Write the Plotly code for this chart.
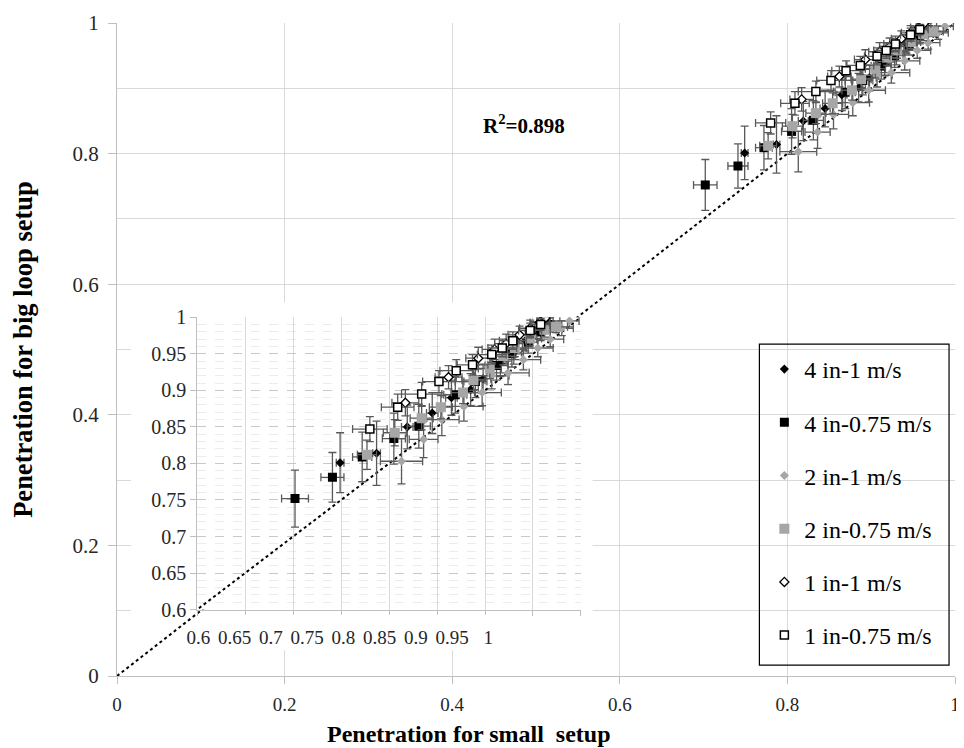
import plotly.graph_objects as go

# ---------------- data ----------------
series_names = ["4 in-1 m/s", "4 in-0.75 m/s", "2 in-1 m/s", "2 in-0.75 m/s", "1 in-1 m/s", "1 in-0.75 m/s"]

s1_x = [0.749, 0.787, 0.819, 0.845, 0.865, 0.885, 0.898, 0.916, 0.930, 0.942, 0.952, 0.960]
s1_y = [0.801, 0.814, 0.850, 0.869, 0.890, 0.901, 0.916, 0.937, 0.952, 0.968, 0.982, 0.998]
s1_ex = [0.004, 0.004, 0.006, 0.006, 0.006, 0.008, 0.008, 0.008, 0.008, 0.008, 0.008, 0.006]
s1_ey = [0.041, 0.044, 0.030, 0.028, 0.024, 0.022, 0.020, 0.018, 0.016, 0.014, 0.012, 0.008]

s2_x = [0.702, 0.741, 0.772, 0.805, 0.831, 0.869, 0.890, 0.912, 0.928, 0.945, 0.958, 0.968]
s2_y = [0.752, 0.781, 0.809, 0.834, 0.851, 0.894, 0.912, 0.934, 0.950, 0.966, 0.980, 0.990]
s2_ex = [0.014, 0.012, 0.010, 0.012, 0.012, 0.012, 0.012, 0.012, 0.012, 0.010, 0.010, 0.008]
s2_ey = [0.039, 0.034, 0.034, 0.035, 0.030, 0.025, 0.022, 0.020, 0.018, 0.015, 0.012, 0.010]

s3_x = [0.813, 0.836, 0.855, 0.878, 0.897, 0.907, 0.924, 0.940, 0.955, 0.968, 0.980, 0.988]
s3_y = [0.803, 0.833, 0.860, 0.878, 0.897, 0.920, 0.924, 0.942, 0.958, 0.970, 0.985, 0.995]
s3_ex = [0.022, 0.015, 0.018, 0.020, 0.020, 0.018, 0.022, 0.018, 0.016, 0.014, 0.012, 0.010]
s3_ey = [0.031, 0.025, 0.022, 0.020, 0.018, 0.018, 0.016, 0.014, 0.012, 0.010, 0.010, 0.008]

s4_x = [0.777, 0.806, 0.834, 0.854, 0.877, 0.888, 0.905, 0.919, 0.931, 0.947, 0.962, 0.974]
s4_y = [0.812, 0.842, 0.862, 0.877, 0.897, 0.914, 0.930, 0.947, 0.958, 0.971, 0.983, 0.987]
s4_ex = [0.010, 0.012, 0.012, 0.012, 0.012, 0.012, 0.012, 0.012, 0.012, 0.012, 0.012, 0.012]
s4_ey = [0.020, 0.018, 0.016, 0.016, 0.015, 0.014, 0.014, 0.012, 0.012, 0.010, 0.010, 0.008]

s5_x = [0.817, 0.862, 0.893, 0.910, 0.922, 0.936, 0.947, 0.957, 0.963]
s5_y = [0.883, 0.918, 0.944, 0.956, 0.964, 0.976, 0.985, 0.993, 0.999]
s5_ex = [0.014, 0.014, 0.013, 0.013, 0.012, 0.012, 0.011, 0.010, 0.008]
s5_ey = [0.018, 0.016, 0.015, 0.014, 0.013, 0.012, 0.011, 0.010, 0.008]

s6_x = [0.780, 0.809, 0.834, 0.852, 0.870, 0.887, 0.907, 0.918, 0.929, 0.947, 0.958]
s6_y = [0.847, 0.877, 0.895, 0.912, 0.927, 0.935, 0.949, 0.958, 0.968, 0.982, 0.990]
s6_ex = [0.018, 0.017, 0.021, 0.017, 0.017, 0.016, 0.015, 0.015, 0.014, 0.012, 0.010]
s6_ey = [0.017, 0.018, 0.016, 0.015, 0.015, 0.014, 0.013, 0.012, 0.012, 0.010, 0.008]

diag = [0, 1]
r2_text = "R<sup>2</sup>=0.898"
main_ticks = [0, 0.2, 0.4, 0.6, 0.8, 1]
inset_ticks = [0.6, 0.65, 0.7, 0.75, 0.8, 0.85, 0.9, 0.95, 1]

# ---------------- styles ----------------
SERIF = "Liberation Serif, Times New Roman, serif"
GRAY = "#a6a6a6"
styles = [
    dict(symbol="diamond", color="black", size=7, line=dict(width=0)),
    dict(symbol="square", color="black", size=9, line=dict(width=0)),
    dict(symbol="diamond", color=GRAY, size=7, line=dict(width=0)),
    dict(symbol="square", color=GRAY, size=10, line=dict(width=0)),
    dict(symbol="diamond", color="white", size=7, line=dict(width=1.3, color="black")),
    dict(symbol="square", color="white", size=8, line=dict(width=1.5, color="black")),
]
data = [(s1_x, s1_y, s1_ex, s1_ey), (s2_x, s2_y, s2_ex, s2_ey), (s3_x, s3_y, s3_ex, s3_ey),
        (s4_x, s4_y, s4_ex, s4_ey), (s5_x, s5_y, s5_ex, s5_ey), (s6_x, s6_y, s6_ex, s6_ey)]

# page body has an 8px margin: figure is 956x740, page coords = figure coords + 8
OFF = 8
W, H = 956, 740
L, R, T, B = 108, 4, 9, 72
pw, ph = W - L - R, H - T - B


def px_x(p):  # page pixel -> paper fraction
    return (p - OFF - L) / pw


def px_y(p):
    return (H - B - (p - OFF)) / ph


dotline = dict(color="black", width=2, dash="dot")
ebar = dict(type="data", color="#595959", thickness=1.3, width=4)

fig = go.Figure()

# --- main subplot
fig.add_trace(go.Scatter(x=diag, y=diag, mode="lines", line=dotline,
                         showlegend=False, hoverinfo="skip"))
for i, (xs, ys, exs, eys) in enumerate(data):
    fig.add_trace(go.Scatter(
        x=xs, y=ys, mode="markers", name=series_names[i], legendgroup="g%d" % i,
        marker=styles[i], error_x=dict(array=exs, **ebar), error_y=dict(array=eys, **ebar)))

# --- backdrop subplot of the inset (same scale as the main axes)
fig.add_trace(go.Scatter(x=diag, y=diag, mode="lines", xaxis="x2", yaxis="y2", line=dotline,
                         showlegend=False, hoverinfo="skip"))

# --- inset subplot
fig.add_trace(go.Scatter(x=diag, y=diag, mode="lines", xaxis="x3", yaxis="y3", line=dotline,
                         showlegend=False, hoverinfo="skip"))
for i, (xs, ys, exs, eys) in enumerate(data):
    fig.add_trace(go.Scatter(
        x=xs, y=ys, mode="markers", name=series_names[i], legendgroup="g%d" % i,
        xaxis="x3", yaxis="y3", showlegend=False,
        marker=styles[i], error_x=dict(array=exs, **ebar), error_y=dict(array=eys, **ebar)))

# --- label axis for the inset x tick labels
fig.add_trace(go.Scatter(x=[], y=[], xaxis="x4", yaxis="y4", showlegend=False))

AXC = "#bfbfbf"
GRID = "#d9d9d9"
TXT = "#262626"
hidden = dict(showgrid=False, zeroline=False, showline=False, showticklabels=False, ticks="")

cov_x = [130, 595]
cov_y = [650, 299]

fig.update_layout(
    width=W, height=H,
    margin=dict(l=L, r=R, t=T, b=B, pad=0),
    paper_bgcolor="white", plot_bgcolor="white",
    font=dict(family=SERIF, color=TXT),
    xaxis=dict(range=[0, 1], tickvals=main_ticks, showgrid=True, gridcolor=GRID, gridwidth=1,
               zeroline=False, showline=True, linecolor=AXC, linewidth=1,
               ticks="outside", ticklen=7, tickcolor=AXC, ticklabelstandoff=4,
               tickfont=dict(family=SERIF, size=19, color=TXT)),
    yaxis=dict(range=[0, 1], tickvals=main_ticks, showgrid=True, gridcolor=GRID, gridwidth=1,
               minor=dict(dtick=0.1, tick0=0, showgrid=True, gridcolor=GRID, gridwidth=1),
               zeroline=False, showline=True, linecolor=AXC, linewidth=1,
               ticks="outside", ticklen=8, tickcolor=AXC, ticklabelstandoff=5,
               tickfont=dict(family=SERIF, size=21, color=TXT),
               title=dict(text="<b>Penetration for big loop setup</b>", standoff=42,
                          font=dict(family=SERIF, size=26.5, color="black"))),
    xaxis2=dict(domain=[px_x(cov_x[0]), px_x(cov_x[1])], anchor="y2",
                range=[px_x(cov_x[0]), px_x(cov_x[1])], **hidden),
    yaxis2=dict(domain=[px_y(cov_y[0]), px_y(cov_y[1])], anchor="x2",
                range=[px_y(cov_y[0]), px_y(cov_y[1])], **hidden),
    xaxis3=dict(domain=[px_x(196.7), px_x(583.3)], anchor="y3", range=[0.6, 1], dtick=0.05, tick0=0.6,
                showgrid=True, gridcolor=GRID, zeroline=False, showline=True, linecolor=AXC,
                ticks="outside", ticklen=5, tickcolor=AXC, showticklabels=False),
    yaxis3=dict(domain=[px_y(609), px_y(314)], anchor="x3", range=[0.6, 1], dtick=0.05, tick0=0.6,
                showgrid=True, gridcolor="#c8c8c8", griddash="dash",
                minor=dict(dtick=0.01, tick0=0.6, showgrid=True, gridcolor="#ececec", griddash="dash"),
                zeroline=False, showline=True, linecolor=AXC,
                ticks="outside", ticklen=6, tickcolor=AXC,
                tickfont=dict(family=SERIF, size=20, color=TXT)),
    xaxis4=dict(domain=[px_x(198), px_x(490)], anchor="y4", range=[0.6, 1], tickvals=inset_ticks,
                showgrid=False, zeroline=False, showline=False, ticks="",
                tickfont=dict(family=SERIF, size=19, color=TXT)),
    yaxis4=dict(domain=[px_y(624), px_y(614)], anchor="x4", range=[0, 1], **hidden),
    legend=dict(x=px_x(768), y=px_y(344), xanchor="left", yanchor="top",
                bgcolor="rgba(0,0,0,0)", borderwidth=0,
                font=dict(family=SERIF, size=24, color="black"),
                traceorder="grouped", tracegroupgap=19),
    shapes=[
        dict(type="rect", xref="paper", yref="paper", layer="above",
             x0=px_x(763), x1=px_x(954), y0=px_y(665), y1=px_y(341),
             fillcolor="rgba(0,0,0,0)", line=dict(color="black", width=1.2)),
    ],
    annotations=[
        dict(text="<b>" + r2_text + "</b>", xref="paper", yref="paper",
             x=px_x(526), y=px_y(119), xanchor="center", yanchor="middle", showarrow=False,
             font=dict(family=SERIF, size=21, color="black")),
        dict(text="<b>Penetration for small\u00a0 setup</b>", xref="paper", yref="paper",
             x=px_x(471), y=px_y(735), xanchor="center", yanchor="middle", showarrow=False,
             font=dict(family=SERIF, size=24, color="black")),
    ],
)

fig.write_html("out.html")
